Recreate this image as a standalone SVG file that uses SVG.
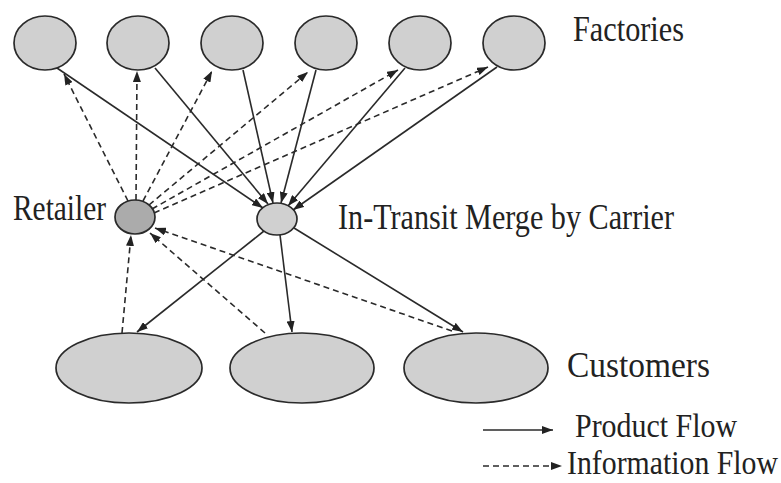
<svg xmlns="http://www.w3.org/2000/svg" width="781" height="483" viewBox="0 0 781 483">
  <defs>
    <marker id="head" viewBox="0 0 11 8" refX="11" refY="4" markerWidth="11" markerHeight="8" markerUnits="userSpaceOnUse" orient="auto">
      <path d="M0,0 L11,4 L0,8 z" fill="#222"/>
    </marker>
    <style>
      .node { fill: #d0d0d0; stroke: #2a2a2a; stroke-width: 1.7; }
      .dark { fill: #ababab; }
      .flow { fill: none; stroke: #2a2a2a; stroke-width: 1.6; marker-end: url(#head); }
      .info { stroke-dasharray: 6 4; }
      .label { font-family: "Liberation Serif", "Times New Roman", serif; font-size: 30px; fill: #222; }
    </style>
  </defs>
  <rect width="781" height="483" fill="#ffffff"/>

  <!-- Factories -->
  <g id="factory-1"><ellipse class="node" cx="45" cy="43" rx="31" ry="27"/></g>
  <g id="factory-2"><ellipse class="node" cx="138" cy="43" rx="31" ry="27"/></g>
  <g id="factory-3"><ellipse class="node" cx="232" cy="43" rx="31" ry="27"/></g>
  <g id="factory-4"><ellipse class="node" cx="326" cy="43" rx="31" ry="27"/></g>
  <g id="factory-5"><ellipse class="node" cx="420" cy="43" rx="31" ry="27"/></g>
  <g id="factory-6"><ellipse class="node" cx="514" cy="43" rx="31" ry="27"/></g>
  <g id="factories-label">
    <text class="label" transform="translate(573,41) scale(1,1.2)" textLength="111" lengthAdjust="spacingAndGlyphs">Factories</text>
  </g>

  <!-- Retailer -->
  <g id="retailer">
    <ellipse class="node dark" cx="135" cy="217" rx="20" ry="17"/>
    <text class="label" transform="translate(13,220) scale(1,1.2)" textLength="93" lengthAdjust="spacingAndGlyphs">Retailer</text>
  </g>

  <!-- In-transit merge -->
  <g id="merge">
    <ellipse class="node" cx="277" cy="219" rx="20" ry="16"/>
    <text class="label" transform="translate(338,229) scale(1,1.2)" textLength="336" lengthAdjust="spacingAndGlyphs">In-Transit Merge by Carrier</text>
  </g>

  <!-- Customers -->
  <g id="customer-1"><ellipse class="node" cx="129" cy="368" rx="73" ry="35"/></g>
  <g id="customer-2"><ellipse class="node" cx="302" cy="368" rx="72" ry="35"/></g>
  <g id="customer-3"><ellipse class="node" cx="476" cy="368" rx="72" ry="35"/></g>
  <g id="customers-label">
    <text class="label" transform="translate(567,377) scale(1,1.2)" textLength="143" lengthAdjust="spacingAndGlyphs">Customers</text>
  </g>

  <!-- Connectors -->
  <g id="connectors">
    <!-- product flow: factories to merge -->
    <line class="flow" x1="57" y1="68" x2="263" y2="208"/>
    <line class="flow" x1="155" y1="68" x2="268" y2="204"/>
    <line class="flow" x1="243" y1="70" x2="273" y2="203"/>
    <line class="flow" x1="316" y1="70" x2="281" y2="203"/>
    <line class="flow" x1="405" y1="68" x2="288" y2="206"/>
    <line class="flow" x1="497" y1="67" x2="293" y2="210"/>
    <!-- product flow: merge to customers -->
    <line class="flow" x1="264" y1="231" x2="137" y2="332"/>
    <line class="flow" x1="280" y1="235" x2="292" y2="332"/>
    <line class="flow" x1="294" y1="228" x2="463" y2="332"/>
    <!-- information flow: retailer to factories -->
    <line class="flow info" x1="128" y1="201" x2="64" y2="74"/>
    <line class="flow info" x1="136" y1="200" x2="137" y2="71"/>
    <line class="flow info" x1="143" y1="201" x2="212" y2="71"/>
    <line class="flow info" x1="149" y1="205" x2="308" y2="72"/>
    <line class="flow info" x1="152" y1="209" x2="398" y2="70"/>
    <line class="flow info" x1="154" y1="213" x2="488" y2="67"/>
    <!-- information flow: customers to retailer -->
    <line class="flow info" x1="122" y1="333" x2="131" y2="235"/>
    <line class="flow info" x1="265" y1="333" x2="150" y2="233"/>
    <line class="flow info" x1="452" y1="331" x2="155" y2="228"/>
  </g>

  <!-- Legend -->
  <g id="legend">
    <line class="flow" x1="483" y1="430" x2="553" y2="430"/>
    <text class="label" transform="translate(575,437) scale(1,1.15)" textLength="162" lengthAdjust="spacingAndGlyphs">Product Flow</text>
    <line class="flow info" x1="483" y1="466" x2="562" y2="466"/>
    <text class="label" transform="translate(567,474) scale(1,1.15)" textLength="211" lengthAdjust="spacingAndGlyphs">Information Flow</text>
  </g>
</svg>
